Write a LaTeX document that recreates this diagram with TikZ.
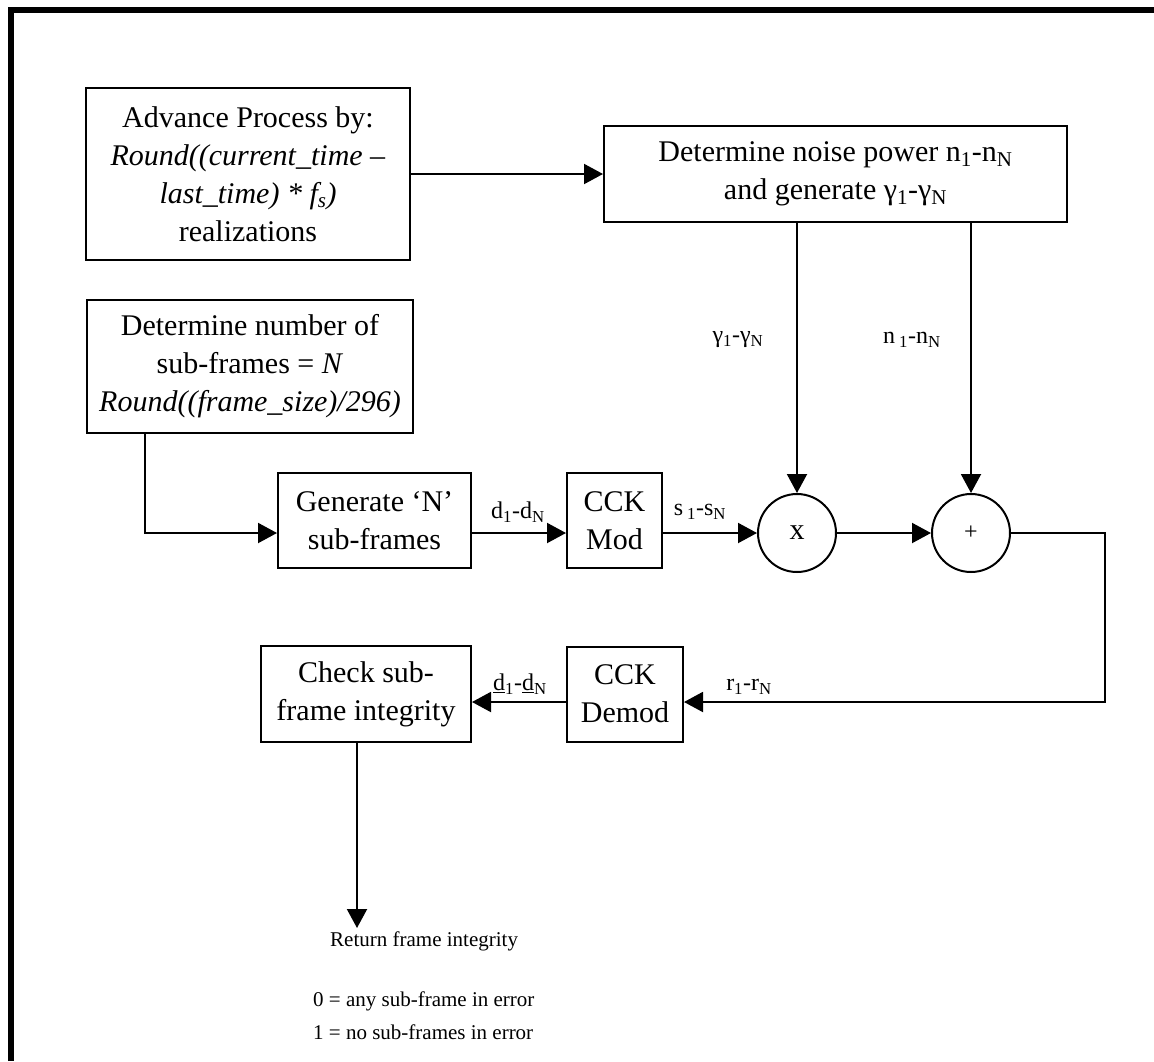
\documentclass[tikz,border=0pt]{standalone}
\usepackage{fontspec}
\setmainfont{Liberation Serif}
\usetikzlibrary{arrows.meta}

\begin{document}
\begin{tikzpicture}[x=1pt,y=-1pt,
  box/.style={draw,line width=2pt,align=center,inner sep=2pt,
    font=\fontsize{30}{38}\selectfont},
  circ/.style={draw,circle,line width=2pt,minimum size=78pt,inner sep=0pt,
    font=\fontsize{30}{36}\selectfont},
  lbl/.style={inner sep=0pt,font=\fontsize{24}{28}\selectfont},
  txt/.style={inner sep=0pt,align=left,font=\fontsize{21}{33}\selectfont},
  conn/.style={line width=2pt,-{Triangle[length=19pt,width=20pt]}}]
\useasboundingbox (0,0) rectangle (1154,1061);

% frame along the left and top edges
\draw[line width=6pt] (11,1061) -- (11,10) -- (1154,10);

% process blocks
\node[box,minimum width=324pt,minimum height=172pt] (adv) at (248,174)
  {Advance Process by:\\ \textit{Round((current\_time –}\\
   \textit{last\_time) * f\textsubscript{s})}\\ realizations};
\node[box,minimum width=463pt,minimum height=96pt] (noise) at (835.5,174)
  {Determine noise power n\textsubscript{1}-n\textsubscript{N}\\
   and generate γ\textsubscript{1}-γ\textsubscript{N}};
\node[box,minimum width=326pt,minimum height=133pt] (nsub) at (250,366.5)
  {Determine number of\\ sub-frames = \textit{N}\\
   \textit{Round((frame\_size)/296)}};
\node[box,minimum width=193pt,minimum height=95pt] (gen) at (374.5,520.5)
  {Generate ‘N’\\ sub-frames};
\node[box,minimum width=95pt,minimum height=95pt] (mod) at (614.5,520.5)
  {CCK\\ Mod};
\node[circ] (mul) at (797,533) {x};
\node[circ,font=\fontsize{24}{28}\selectfont] (add) at (971,533) {+};
\node[box,minimum width=116pt,minimum height=95pt] (demod) at (625,694)
  {CCK\\ Demod};
\node[box,minimum width=210pt,minimum height=96pt] (check) at (366,694)
  {Check sub-\\ frame integrity};

% bend points of the routed connectors
\coordinate (split) at (145,533);
\coordinate (ret) at (1105,702);
\coordinate (out) at (357,928);

% connectors
\draw[conn] (adv.east) -- (noise.west);
\draw[conn] (noise.south -| mul.center) -- (mul.north);
\draw[conn] (noise.south -| add.center) -- (add.north);
\draw[conn] (nsub.south -| split) |- (gen.west |- mul.center);
\draw[conn] (gen.east |- mul.center) -- (mod.west |- mul.center);
\draw[conn] (mod.east |- mul.center) -- (mul.west);
\draw[conn] (mul.east) -- (add.west);
\draw[conn] (add.east) -| (ret) -- (demod.east |- ret);
\draw[conn] (demod.west |- ret) -- (check.east |- ret);
\draw[conn] (check.south -| out) -- (out);

% signal labels
\node[lbl] (lgam) at (738,340) {γ\textsubscript{1}-γ\textsubscript{N}};
\node[lbl] (lnoi) at (912,340) {n\,\textsubscript{1}-n\textsubscript{N}};
\node[lbl] (ldat) at (518,512) {d\textsubscript{1}-d\textsubscript{N}};
\node[lbl] (lsym) at (700,512) {s\,\textsubscript{1}-s\textsubscript{N}};
\node[lbl] (lrcv) at (749,687) {r\textsubscript{1}-r\textsubscript{N}};
\node[lbl] (ldec) at (520,684) {\underline{d}\textsubscript{1}-\underline{d}\textsubscript{N}};

% result description
\node[txt,anchor=west] (result) at (330,941) {Return frame integrity};
\node[txt,anchor=west] (codes) at (313,1016)
  {0 = any sub-frame in error\\ 1 = no sub-frames in error};
\end{tikzpicture}
\end{document}
